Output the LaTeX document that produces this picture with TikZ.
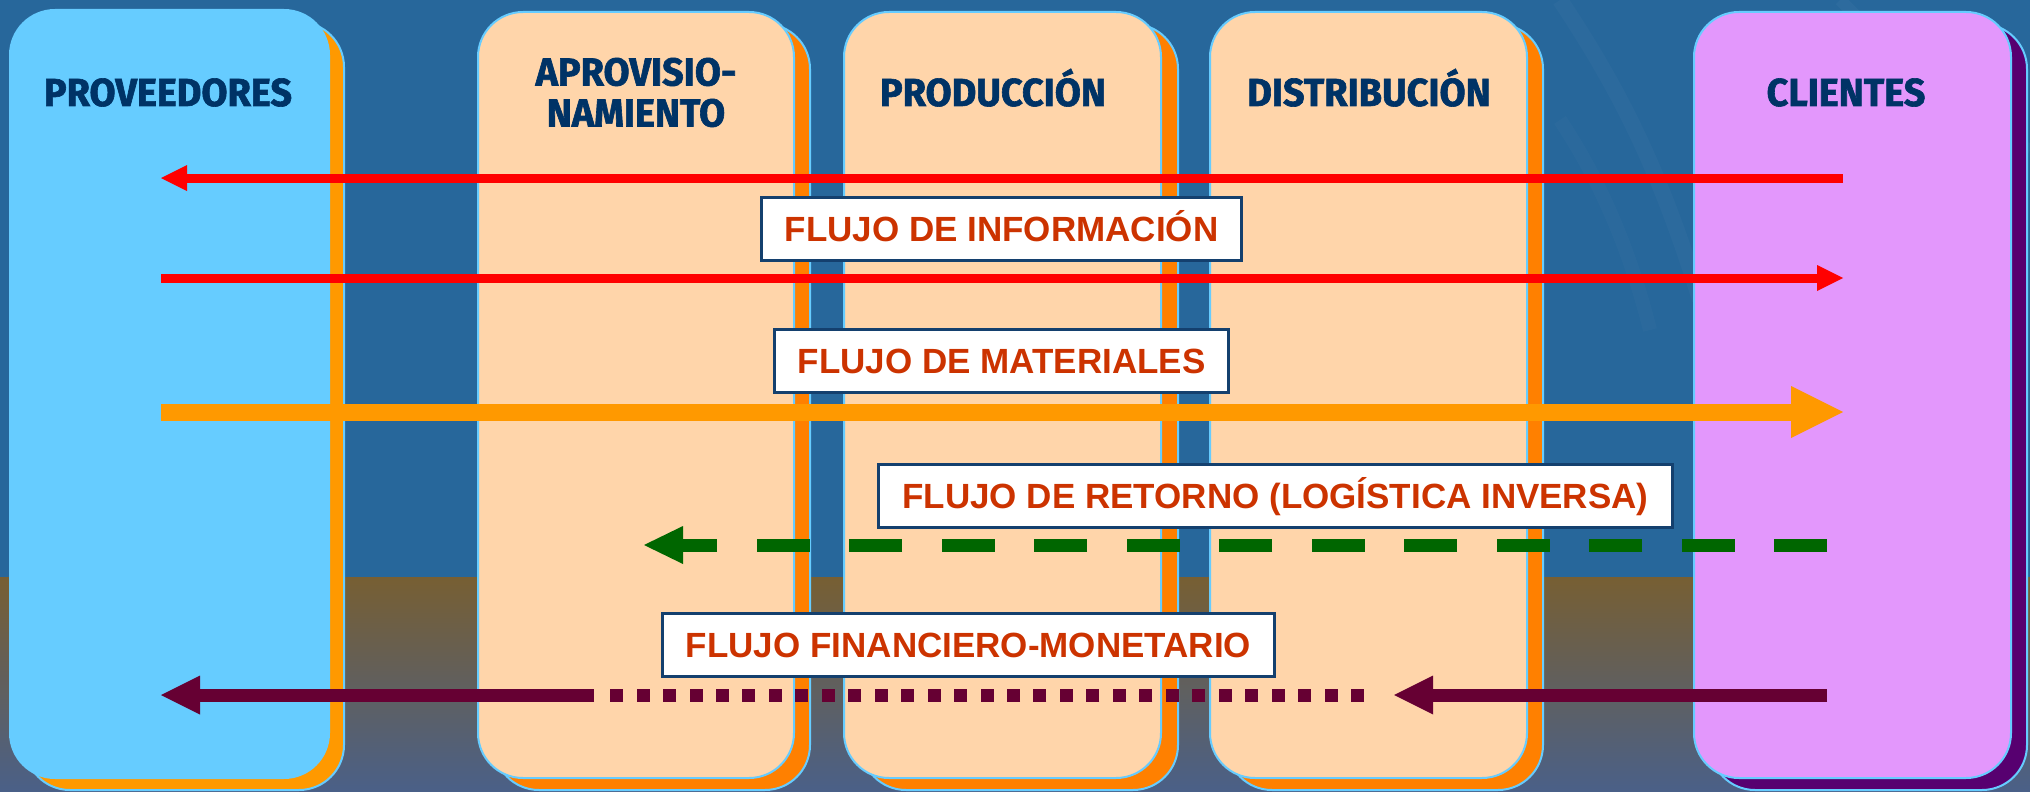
\documentclass[tikz,border=0pt]{standalone}
\usepackage{fontspec}
\setmainfont{Liberation Sans}
\newfontfamily\titlefont[FakeStretch=0.97,FakeBold=1.6]{Fira Sans}
\usetikzlibrary{arrows.meta}
\definecolor{bgtop}{HTML}{27679B}
\definecolor{bgmid}{HTML}{775F33}
\definecolor{bgbot}{HTML}{4A6088}
\definecolor{edgeblue}{HTML}{66CCFF}
\definecolor{provfill}{HTML}{66CCFF}
\definecolor{provshadow}{HTML}{FF9900}
\definecolor{midfill}{HTML}{FFD5AA}
\definecolor{midshadow}{HTML}{FF8000}
\definecolor{clifill}{HTML}{E397FC}
\definecolor{clishadow}{HTML}{570070}
\definecolor{titleblue}{HTML}{003366}
\definecolor{labeltext}{HTML}{CC3300}
\definecolor{labeledge}{HTML}{14406E}
\definecolor{infored}{HTML}{FF0000}
\definecolor{matorange}{HTML}{FF9900}
\definecolor{retgreen}{HTML}{006600}
\definecolor{finmaroon}{HTML}{660033}
\tikzset{
  colshape/.style={draw=edgeblue, line width=2pt, rounded corners=45pt},
  coltitle/.style={text=titleblue, font=\titlefont\bfseries\fontsize{39}{41}\selectfont, align=center, inner sep=0pt},
  flowlabel/.style={draw=labeledge, line width=3pt, fill=white, text=labeltext,
    font=\bfseries\fontsize{35}{35}\selectfont, inner xsep=23.5pt, inner ysep=0pt,
    text height=25pt, text depth=0pt, minimum height=63pt},
  infoarrow/.style={draw=infored, line width=9pt, -{Triangle[length=26pt,width=26pt,line width=0pt]}},
  matarrow/.style={draw=matorange, line width=17pt, -{Triangle[length=52pt,width=52pt,line width=0pt]}},
  retarrow/.style={draw=retgreen, line width=13pt, dash pattern=on 53pt off 39.5pt, -{Triangle[length=39pt,width=38pt,line width=0pt]}},
  finarrow/.style={draw=finmaroon, line width=13pt, -{Triangle[length=39pt,width=39pt,line width=0pt]}},
  findots/.style={draw=finmaroon, line width=13pt, dash pattern=on 13pt off 13.46pt},
}
\begin{document}
\begin{tikzpicture}[x=1pt,y=-1pt]
\useasboundingbox (0,0) rectangle (2030,792);
% background
\fill[bgtop] (0,0) rectangle (2030,577);
\shade[top color=bgmid, bottom color=bgbot] (0,577) rectangle (2030,792);
\draw[white, opacity=0.025, line width=16pt] (1560,0) .. controls (1620,90) and (1660,170) .. (1700,300);
\draw[white, opacity=0.03, line width=12pt] (1840,0) .. controls (1900,60) and (1950,110) .. (2030,150);
\draw[white, opacity=0.02, line width=14pt] (1560,120) .. controls (1600,180) and (1630,250) .. (1650,330);
% columns
\path[colshape, fill=provshadow] (25,22) rectangle (344,790);
\path[colshape, fill=provfill] (10,10) rectangle (329,778);
\path[colshape, fill=midshadow] (494,24) rectangle (810,790);
\path[colshape, fill=midfill] (478,12) rectangle (794,778);
\path[colshape, fill=midshadow] (861,24) rectangle (1178,790);
\path[colshape, fill=midfill] (844,12) rectangle (1161,778);
\path[colshape, fill=midshadow] (1227,24) rectangle (1543,790);
\path[colshape, fill=midfill] (1210,12) rectangle (1527,778);
\path[colshape, fill=clishadow] (1710,24) rectangle (2027,790);
\path[colshape, fill=clifill] (1694,12) rectangle (2011,778);
% titles
\node[coltitle, anchor=base] (tprov) at (168,106) {PROVEEDORES};
\node[coltitle, anchor=center] (taprov) at (636,92.5) {APROVISIO-\\NAMIENTO};
\node[coltitle, anchor=base] (tprod) at (993,106) {PRODUCCIÓN};
\node[coltitle, anchor=base] (tdist) at (1369,106) {DISTRIBUCIÓN};
\node[coltitle, anchor=base] (tcli) at (1846,106) {CLIENTES};
% flow end points
\coordinate (infoL) at (161,178);
\coordinate (infoR) at (1843,178);
\coordinate (info2L) at (161,278);
\coordinate (info2R) at (1843,278);
\coordinate (matL) at (161,412);
\coordinate (matR) at (1843,412);
\coordinate (retR) at (1827,545);
\coordinate (retL) at (644,545);
\coordinate (finR) at (1827,695);
\coordinate (finRtip) at (1394,695);
\coordinate (finDotR) at (1364,695);
\coordinate (finDotL) at (610,695);
\coordinate (finLstart) at (594,695);
\coordinate (finL) at (161,695);
% flows
\draw[infoarrow] (infoR) -- (infoL);
\draw[infoarrow] (info2L) -- (info2R);
\draw[matarrow] (matL) -- (matR);
\draw[retarrow] (retR) -- (retL);
\draw[finarrow] (finR) -- (finRtip);
\draw[findots] (finDotR) -- (finDotL);
\draw[finarrow] (finLstart) -- (finL);
% labels
\node[flowlabel] (linfo) at (1001.5,228.5) {FLUJO DE INFORMACIÓN};
\node[flowlabel] (lmat) at (1001.5,361) {FLUJO DE MATERIALES};
\node[flowlabel] (lret) at (1275.5,495.5) {FLUJO DE RETORNO (LOGÍSTICA INVERSA)};
\node[flowlabel] (lfin) at (968.5,645) {FLUJO FINANCIERO-MONETARIO};
\end{tikzpicture}
\end{document}
